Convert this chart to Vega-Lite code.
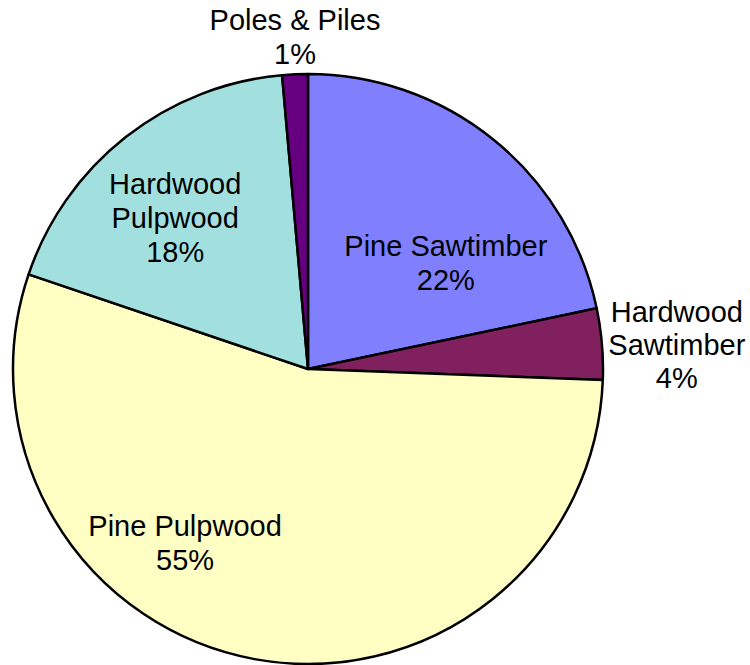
{
  "$schema": "https://vega.github.io/schema/vega-lite/v6.json",
  "width": 590,
  "height": 590,
  "autosize": "none",
  "padding": {"left": 13, "top": 74, "right": 147, "bottom": 1},
  "background": "white",
  "config": {"view": {"stroke": null}},
  "data": {
    "values": [
      {"k": 1, "category": "Pine Sawtimber", "value": 21.7, "label": "Pine Sawtimber\n22%"},
      {"k": 2, "category": "Hardwood Sawtimber", "value": 3.9, "label": "Hardwood\nSawtimber\n4%"},
      {"k": 3, "category": "Pine Pulpwood", "value": 54.6, "label": "Pine Pulpwood\n55%"},
      {"k": 4, "category": "Hardwood Pulpwood", "value": 18.4, "label": "Hardwood\nPulpwood\n18%"},
      {"k": 5, "category": "Poles & Piles", "value": 1.4, "label": "Poles & Piles\n1%"}
    ]
  },
  "transform": [
    {"stack": "value", "groupby": [], "sort": [{"field": "k", "order": "ascending"}], "as": ["v0", "v1"]},
    {"calculate": "(datum.v0 + datum.v1) / 2", "as": "mid"}
  ],
  "layer": [
    {
      "mark": {"type": "arc", "radius": 295, "stroke": "black", "strokeWidth": 2.5, "strokeJoin": "round"},
      "encoding": {
        "theta": {"field": "v0", "type": "quantitative", "scale": {"domain": [0, 100]}},
        "theta2": {"field": "v1"},
        "color": {
          "field": "category",
          "type": "nominal",
          "legend": null,
          "scale": {
            "domain": ["Pine Sawtimber", "Hardwood Sawtimber", "Pine Pulpwood", "Hardwood Pulpwood", "Poles & Piles"],
            "range": ["#8080FF", "#80205F", "#FFFFC4", "#A2E0E0", "#660080"]
          }
        }
      }
    },
    {
      "transform": [{"filter": "datum.category === 'Pine Sawtimber'"}],
      "mark": {"type": "text", "radius": 184, "thetaOffset": 0.165, "font": "Liberation Sans", "fontSize": 29, "lineHeight": 34, "align": "center", "baseline": "middle", "lineBreak": "\n", "color": "black"},
      "encoding": {"theta": {"field": "mid", "type": "quantitative"}, "text": {"field": "label"}}
    },
    {
      "transform": [{"filter": "datum.category === 'Hardwood Sawtimber'"}],
      "mark": {"type": "text", "radius": 373, "thetaOffset": -0.065, "font": "Liberation Sans", "fontSize": 29, "lineHeight": 33, "align": "center", "baseline": "middle", "lineBreak": "\n", "color": "black"},
      "encoding": {"theta": {"field": "mid", "type": "quantitative"}, "text": {"field": "label"}}
    },
    {
      "transform": [{"filter": "datum.category === 'Pine Pulpwood'"}],
      "mark": {"type": "text", "radius": 200, "thetaOffset": 0.48, "font": "Liberation Sans", "fontSize": 29, "lineHeight": 34, "align": "center", "baseline": "middle", "lineBreak": "\n", "color": "black"},
      "encoding": {"theta": {"field": "mid", "type": "quantitative"}, "text": {"field": "label"}}
    },
    {
      "transform": [{"filter": "datum.category === 'Hardwood Pulpwood'"}],
      "mark": {"type": "text", "radius": 227, "thetaOffset": 0.041, "font": "Liberation Sans", "fontSize": 29, "lineHeight": 34, "align": "center", "baseline": "middle", "lineBreak": "\n", "color": "black"},
      "encoding": {"theta": {"field": "mid", "type": "quantitative"}, "text": {"field": "label"}}
    },
    {
      "transform": [{"filter": "datum.category === 'Poles & Piles'"}],
      "mark": {"type": "text", "radius": 348, "thetaOffset": 0.0066, "font": "Liberation Sans", "fontSize": 29, "lineHeight": 34, "align": "center", "baseline": "middle", "lineBreak": "\n", "color": "black"},
      "encoding": {"theta": {"field": "mid", "type": "quantitative"}, "text": {"field": "label"}}
    }
  ]
}
